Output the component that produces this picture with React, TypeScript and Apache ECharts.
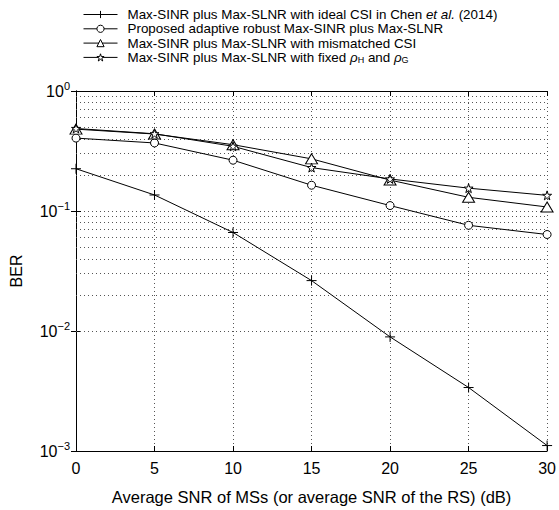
import React, { useEffect, useRef } from "react";
import * as echarts from "echarts";

const snr = [0, 5, 10, 15, 20, 25, 30];
const berIdeal = [0.225, 0.136, 0.0662, 0.0263, 0.00893, 0.00338, 0.00111];
const berProposed = [0.405, 0.369, 0.265, 0.164, 0.111, 0.076, 0.0637];
const berMismatched = [0.481, 0.438, 0.357, 0.272, 0.181, 0.13, 0.108];
const berFixed = [0.487, 0.44, 0.346, 0.23, 0.185, 0.155, 0.135];

const seriesNames = [
  "Max-SINR plus Max-SLNR with ideal CSI in Chen et al. (2014)",
  "Proposed adaptive robust Max-SINR plus Max-SLNR",
  "Max-SINR plus Max-SLNR with mismatched CSI",
  "Max-SINR plus Max-SLNR with fixed ρH and ρG",
];
const legendRich = [
  "Max-SINR plus Max-SLNR with ideal CSI in Chen {it|et al.} (2014)",
  "Proposed adaptive robust Max-SINR plus Max-SLNR",
  "Max-SINR plus Max-SLNR with mismatched CSI",
  "Max-SINR plus Max-SLNR with fixed {rho|ρ}{sub|H} and {rho|ρ}{sub|G}",
];
const minorGridValues = [1e-3, 1e-2, 1e-1].flatMap((d) =>
  [2, 3, 4, 5, 6, 7, 8, 9].map((m) => m * d)
);

const FONT = "'Liberation Sans', Arial, Helvetica, sans-serif";
const PLUS = "path://M5,0L5,10M0,5L10,5";
const STAR =
  "path://M10,0L12.245,6.91L19.51,6.91L13.63,11.18L15.88,18.09L10,13.82L4.12,18.09L6.37,11.18L0.49,6.91L7.755,6.91Z";

export default function App() {
  const ref = useRef<HTMLDivElement>(null);
  useEffect(() => {
    const chart = echarts.init(ref.current!, null, { renderer: "svg" });
    const dotted = { color: "#555", width: 1, type: [1, 3] as any };
    const mk = (name: string, data: number[], symbol: string, size: any, fill: string) => ({
      name,
      type: "line",
      data: snr.map((x, i) => [x, data[i]]),
      symbol,
      symbolSize: size,
      lineStyle: { color: "#000", width: 1 },
      itemStyle: { color: fill, borderColor: "#000", borderWidth: 1 },
      emphasis: { disabled: true },
      z: 5,
    });
    const LF = 13.4;
    chart.setOption({
      animation: false,
      textStyle: { fontFamily: FONT },
      grid: { left: 71, right: 9, top: 91, bottom: 57, show: false },
      legend: {
        orient: "vertical",
        left: 78,
        top: 3,
        itemWidth: 34,
        itemHeight: 9,
        itemGap: 1.3,
        data: seriesNames,
        lineStyle: { width: 1, color: "#000" },
        itemStyle: { borderWidth: 1, borderColor: "#000" },
        formatter: (n: string) => legendRich[seriesNames.indexOf(n)],
        textStyle: {
          fontFamily: FONT,
          fontSize: LF,
          color: "#000",
          padding: [0, 0, 0, 5],
          rich: {
            it: { fontStyle: "italic", fontSize: LF, fontFamily: FONT, color: "#000" },
            rho: { fontStyle: "italic", fontSize: LF, fontFamily: FONT, color: "#000" },
            sub: { fontSize: 9, fontFamily: FONT, color: "#000", padding: [6, 0, 0, 0] },
          },
        },
      },
      xAxis: [
        {
          type: "value",
          min: 0,
          max: 30,
          interval: 5,
          name: "Average SNR of MSs (or average SNR of the RS) (dB)",
          nameLocation: "middle",
          nameGap: 37,
          nameTextStyle: { fontFamily: FONT, fontSize: 16.5, color: "#000" },
          axisLine: { show: true, lineStyle: { color: "#000", width: 1 } },
          axisTick: { show: true, inside: true, length: 5, lineStyle: { color: "#000" } },
          axisLabel: { fontFamily: FONT, fontSize: 16, color: "#000", margin: 9 },
          splitLine: { show: true, lineStyle: dotted },
        },
        {
          type: "value",
          position: "top",
          min: 0,
          max: 30,
          interval: 5,
          axisLine: { show: true, lineStyle: { color: "#000", width: 1 } },
          axisTick: { show: true, inside: true, length: 5, lineStyle: { color: "#000" } },
          axisLabel: { show: false },
          splitLine: { show: false },
        },
      ],
      yAxis: [
        {
          type: "log",
          logBase: 10,
          min: 0.001,
          max: 1,
          name: "BER",
          nameLocation: "middle",
          nameGap: 52,
          nameTextStyle: { fontFamily: FONT, fontSize: 16, color: "#000" },
          axisLine: { show: true, lineStyle: { color: "#000", width: 1 } },
          axisTick: { show: true, inside: true, length: 5, lineStyle: { color: "#000" } },
          axisLabel: {
            fontFamily: FONT,
            fontSize: 16,
            color: "#000",
            margin: 6,
            formatter: (v: number) => {
              const e = Math.round(Math.log10(v));
              return `10{sup|${e === 0 ? "0" : "−" + Math.abs(e)}}`;
            },
            rich: {
              sup: { fontSize: 11, fontFamily: FONT, color: "#000", padding: [0, 0, 10, 0] },
            },
          },
          splitLine: { show: true, lineStyle: dotted },
        },
        {
          type: "log",
          logBase: 10,
          min: 0.001,
          max: 1,
          position: "right",
          axisLine: { show: true, lineStyle: { color: "#000", width: 1 } },
          axisTick: { show: true, inside: true, length: 5, lineStyle: { color: "#000" } },
          axisLabel: { show: false },
          splitLine: { show: false },
        },
      ],
      series: [
        {
          name: "minor-grid",
          type: "line",
          data: [],
          silent: true,
          markLine: {
            silent: true,
            symbol: "none",
            label: { show: false },
            lineStyle: dotted,
            data: minorGridValues.map((v) => ({ yAxis: v })),
          },
        },
        mk(seriesNames[0], berIdeal, PLUS, 10, "#000"),
        mk(seriesNames[1], berProposed, "circle", 8, "#fff"),
        mk(seriesNames[2], berMismatched, "triangle", [12, 10], "#fff"),
        mk(seriesNames[3], berFixed, STAR, 9, "#fff"),
      ],
    });
    return () => chart.dispose();
  }, []);
  return (
    <div
      ref={ref}
      style={{ position: "absolute", left: 0, top: 0, width: 559, height: 510, background: "#fff" }}
    />
  );
}
